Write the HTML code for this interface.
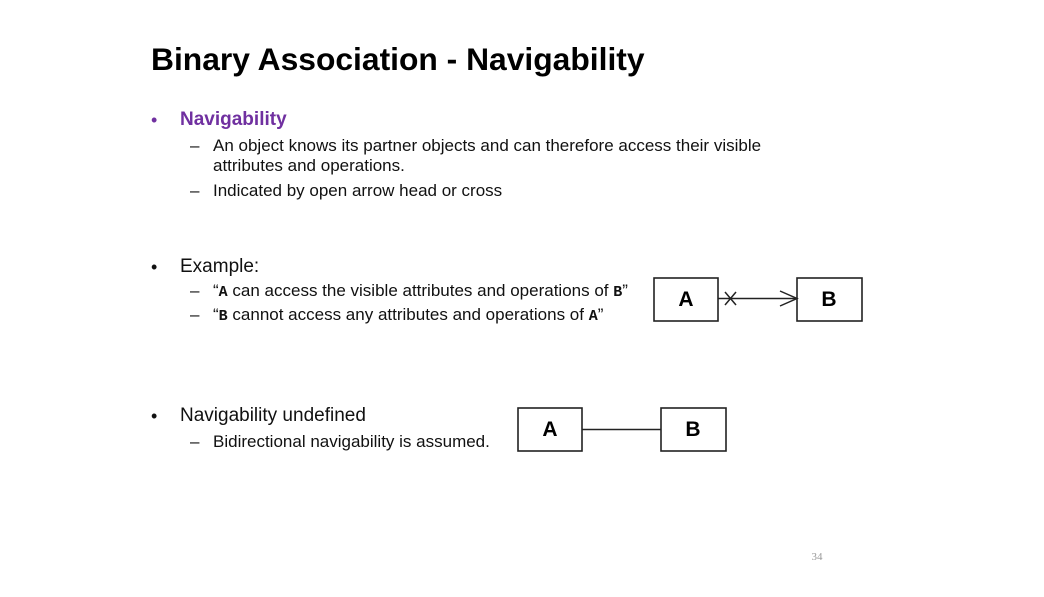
<!DOCTYPE html>
<html><head><meta charset="utf-8"><style>
html,body{margin:0;padding:0;background:#fff;}
body{width:1044px;height:597px;position:relative;overflow:hidden;font-family:"Liberation Sans",Arial,sans-serif;color:#111;}
.t{position:absolute;white-space:nowrap;line-height:1;}
.mono{font-family:"Liberation Mono","DejaVu Sans Mono",monospace;font-weight:bold;font-size:15px;}
</style></head><body>
<div class="t" style="left:151px;top:44px;font-size:31.8px;font-weight:bold;color:#000;">Binary Association - Navigability</div>

<div class="t" style="left:151px;top:111px;font-size:18px;color:#7030a0;">•</div>
<div class="t" style="left:180px;top:110px;font-size:19px;font-weight:bold;color:#7030a0;">Navigability</div>
<div class="t" style="left:190px;top:137px;font-size:17px;">–</div>
<div class="t" style="left:213px;top:137px;font-size:17px;">An object knows its partner objects and can therefore access their visible</div>
<div class="t" style="left:213px;top:157px;font-size:17px;">attributes and operations.</div>
<div class="t" style="left:190px;top:182px;font-size:17px;">–</div>
<div class="t" style="left:213px;top:182px;font-size:17px;">Indicated by open arrow head or cross</div>

<div class="t" style="left:151px;top:258px;font-size:18px;">•</div>
<div class="t" style="left:180px;top:257px;font-size:19px;">Example:</div>
<div class="t" style="left:190px;top:282px;font-size:17px;">–</div>
<div class="t" style="left:213px;top:282px;font-size:17px;">“<span class="mono">A</span> can access the visible attributes and operations of <span class="mono">B</span>”</div>
<div class="t" style="left:190px;top:306px;font-size:17px;">–</div>
<div class="t" style="left:213px;top:306px;font-size:17px;">“<span class="mono">B</span> cannot access any attributes and operations of <span class="mono">A</span>”</div>

<div class="t" style="left:151px;top:407px;font-size:18px;">•</div>
<div class="t" style="left:180px;top:406px;font-size:19px;">Navigability undefined</div>
<div class="t" style="left:190px;top:433px;font-size:17px;">–</div>
<div class="t" style="left:213px;top:433px;font-size:17px;">Bidirectional navigability is assumed.</div>

<svg width="1044" height="597" style="position:absolute;left:0;top:0;" font-family="Liberation Sans, Arial, sans-serif">
  <g fill="#fff" stroke="#222" stroke-width="1.6">
    <rect x="654" y="278" width="64" height="43"/>
    <rect x="797" y="278" width="65" height="43"/>
    <rect x="518" y="408" width="64" height="43"/>
    <rect x="661" y="408" width="65" height="43"/>
  </g>
  <g stroke="#222" stroke-width="1.5" fill="none">
    <line x1="718" y1="298.5" x2="797" y2="298.5"/>
    <line x1="725" y1="292" x2="736" y2="305"/>
    <line x1="736" y1="292" x2="725" y2="305"/>
    <polyline points="780,291 797,298.5 780,306"/>
    <line x1="582" y1="429.5" x2="661" y2="429.5"/>
  </g>
  <g font-size="21" font-weight="bold" fill="#000" text-anchor="middle">
    <text x="686" y="306">A</text>
    <text x="829" y="306">B</text>
    <text x="550" y="436">A</text>
    <text x="693" y="436">B</text>
  </g>
  <text x="817" y="560" font-size="11" fill="#999" text-anchor="middle" font-family="Liberation Serif, serif">34</text>
</svg>
</body></html>
